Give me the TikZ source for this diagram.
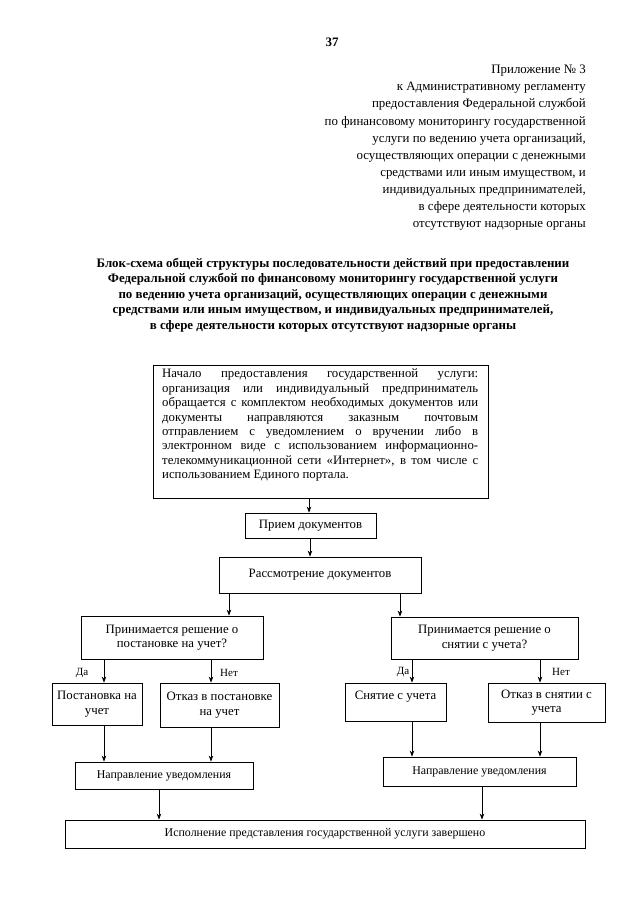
\documentclass[tikz,border=0pt]{standalone}
\usepackage{fontspec}
\setmainfont{Liberation Serif}
\usetikzlibrary{arrows.meta,calc}
\begin{document}
\begin{tikzpicture}[x=1pt,y=-1pt,
  box/.style={draw, line width=0.8pt, inner sep=2pt, align=center},
  fbig/.style={font=\fontsize{12.8}{14.4}\selectfont},
  fsmall/.style={font=\fontsize{11.9}{13.5}\selectfont},
  arr/.style={line width=0.7pt, -{Stealth[length=6pt,width=4.5pt]}},
  lbl/.style={font=\fontsize{11}{13}\selectfont, inner sep=0pt}]
\useasboundingbox (0,0) rectangle (640,905);
\fill[white] (0,0) rectangle (640,905);

% page number and heading
\node[font=\bfseries\fontsize{12.9}{15}\selectfont, inner sep=0pt] (pg) at (332,42) {37};
\node[anchor=north east, align=right, inner sep=0pt, font=\fontsize{12.9}{17.1}\selectfont] (hdr) at (586,65)
 {Приложение № 3\\
  к Административному регламенту\\
  предоставления Федеральной службой\\
  по финансовому мониторингу государственной\\
  услуги по ведению учета организаций,\\
  осуществляющих операции с денежными\\
  средствами или иным имуществом, и\\
  индивидуальных предпринимателей,\\
  в сфере деятельности которых\\
  отсутствуют надзорные органы};
\node[anchor=north, align=center, inner sep=0pt, font=\bfseries\fontsize{12.9}{15.4}\selectfont] (title) at (333,258)
 {Блок-схема общей структуры последовательности действий при предоставлении\\
  Федеральной службой по финансовому мониторингу государственной услуги\\
  по ведению учета организаций, осуществляющих операции с денежными\\
  средствами или иным имуществом, и индивидуальных предпринимателей,\\
  в сфере деятельности которых отсутствуют надзорные органы};

% boxes
\node[box, minimum width=335pt, minimum height=133pt] (start) at (320.5,431.5) {};
\node[anchor=north west, inner sep=0pt, align=left, fbig] (starttext) at (162,369)
 {\makebox[316pt][s]{Начало предоставления государственной услуги:}\\
  \makebox[316pt][s]{организация или индивидуальный предприниматель}\\
  \makebox[316pt][s]{обращается с комплектом необходимых документов или}\\
  \makebox[316pt][s]{документы направляются заказным почтовым}\\
  \makebox[316pt][s]{отправлением с уведомлением о вручении либо в}\\
  \makebox[316pt][s]{электронном виде с использованием информационно-}\\
  \makebox[316pt][s]{телекоммуникационной сети «Интернет», в том числе с}\\
  использованием Единого портала.};

\node[box, fbig, minimum width=131pt, minimum height=25pt] (priem) at (310.5,525.5) {Прием документов};
\node[box, fbig, minimum width=202pt, minimum height=36pt] (rassm) at (320,575) {Рассмотрение документов};
\node[box, fbig, minimum width=182pt, minimum height=43pt] (decL) at (172,637.5) {Принимается решение о\\постановке на учет?};
\node[box, fbig, minimum width=187pt, minimum height=42pt] (decR) at (484.5,638) {Принимается решение о\\снятии с учета?};
\node[box, fbig, minimum width=90pt, minimum height=42pt] (postL) at (97,704) {Постановка на\\учет};
\node[box, fbig, minimum width=119pt, minimum height=44pt] (otkL) at (219.5,705) {Отказ в постановке\\на учет};
\node[box, fbig, minimum width=101pt, minimum height=38pt] (postR) at (395.5,702) {Снятие с учета\\\mbox{}};
\node[box, fbig, minimum width=117pt, minimum height=39pt] (otkR) at (546.5,702.5) {Отказ в снятии с\\учета};
\node[box, fsmall, minimum width=178pt, minimum height=27pt] (napL) at (164,775.5) {Направление уведомления};
\node[box, fsmall, minimum width=193pt, minimum height=29pt] (napR) at (479.5,771.5) {Направление уведомления};
\node[box, fsmall, minimum width=520pt, minimum height=28pt] (fin) at (325,834) {Исполнение представления государственной услуги завершено};

% labels
\node[lbl] (daL) at (82,673) {Да};
\node[lbl] (netL) at (229,673) {Нет};
\node[lbl] (daR) at (403,672) {Да};
\node[lbl] (netR) at (561,672) {Нет};

% x positions of connectors
\coordinate (c1) at (309,0);
\coordinate (c2) at (310,0);
\coordinate (c3) at (229,0);
\coordinate (c4) at (400,0);
\coordinate (c5) at (104,0);
\coordinate (c6) at (211,0);
\coordinate (c7) at (412,0);
\coordinate (c8) at (540,0);
\coordinate (c9) at (159,0);
\coordinate (c10) at (482,0);

\draw[arr] (start.south -| c1) -- (priem.north -| c1);
\draw[arr] (priem.south -| c2) -- (rassm.north -| c2);
\draw[arr] (rassm.south -| c3) -- (decL.north -| c3);
\draw[arr] (rassm.south -| c4) -- (decR.north -| c4);
\draw[arr] (decL.south -| c5) -- (postL.north -| c5);
\draw[arr] (decL.south -| c6) -- (otkL.north -| c6);
\draw[arr] (decR.south -| c7) -- (postR.north -| c7);
\draw[arr] (decR.south -| c8) -- (otkR.north -| c8);
\draw[arr] (postL.south -| c5) -- (napL.north -| c5);
\draw[arr] (otkL.south -| c6) -- (napL.north -| c6);
\draw[arr] (postR.south -| c7) -- (napR.north -| c7);
\draw[arr] (otkR.south -| c8) -- (napR.north -| c8);
\draw[arr] (napL.south -| c9) -- (fin.north -| c9);
\draw[arr] (napR.south -| c10) -- (fin.north -| c10);
\end{tikzpicture}
\end{document}
